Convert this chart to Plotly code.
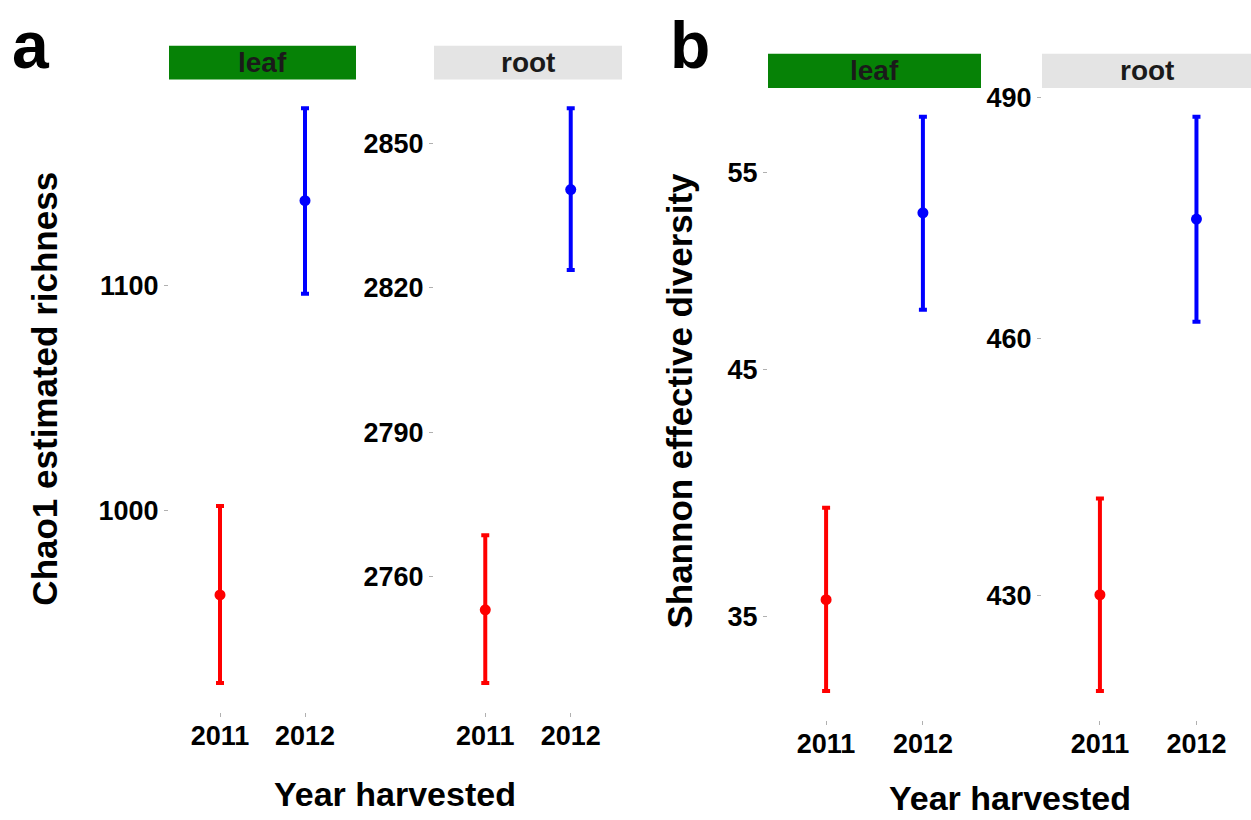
import math
import plotly.graph_objects as go

# ---------------- data ----------------
years = ["2011", "2012"]
year_colors = ["#ff0000", "#0000ff"]

chao1_leaf_mean = [962.3, 1138.0]
chao1_leaf_low = [923.1, 1096.5]
chao1_leaf_high = [1001.9, 1179.2]

chao1_root_mean = [2753.1, 2840.4]
chao1_root_low = [2737.9, 2823.7]
chao1_root_high = [2768.6, 2857.3]

shannon_leaf_mean = [35.6, 52.8]
shannon_leaf_low = [32.44, 47.83]
shannon_leaf_high = [39.09, 58.23]

shannon_root_mean = [430.1, 474.6]
shannon_root_low = [419.4, 462.0]
shannon_root_high = [441.1, 487.5]

chao1_leaf_ticks = [1000, 1100]
chao1_root_ticks = [2760, 2790, 2820, 2850]
shannon_leaf_ticks = [35, 45, 55]
shannon_root_ticks = [430, 460, 490]

facet_labels = ["leaf", "root"]
facet_colors = ["#068206", "#e4e4e4"]

# ---------------- layout helpers ----------------
W, H = 1251, 820
FONT = "Liberation Sans, Arial, Helvetica, sans-serif"


def px(x):
    return x / W


def py(y):
    return 1 - y / H


def expand_range(lo, hi, log=False):
    if log:
        lo, hi = math.log10(lo), math.log10(hi)
    pad = (hi - lo) * 0.05
    return [lo - pad, hi + pad]


panels = [
    # (mean, low, high, ticks, log, x-domain px, y-domain px, x-range)
    (chao1_leaf_mean, chao1_leaf_low, chao1_leaf_high, chao1_leaf_ticks, False,
     (169, 356), (75, 711), [-0.6, 1.6]),
    (chao1_root_mean, chao1_root_low, chao1_root_high, chao1_root_ticks, False,
     (434, 622), (75, 711), [-0.6, 1.6]),
    (shannon_leaf_mean, shannon_leaf_low, shannon_leaf_high, shannon_leaf_ticks, True,
     (768, 981), (83.5, 719), [-0.6, 1.6]),
    (shannon_root_mean, shannon_root_low, shannon_root_high, shannon_root_ticks, True,
     (1042, 1251), (83.5, 719), [-0.6, 1.565]),
]

fig = go.Figure()
layout = {}
tickfont = dict(family=FONT, size=27, color="#000000", weight="bold")

for i, (mean, low, high, ticks, is_log, xd, yd, xr) in enumerate(panels):
    n = i + 1
    xa = "x" if n == 1 else f"x{n}"
    ya = "y" if n == 1 else f"y{n}"
    for j, yr in enumerate(years):
        fig.add_trace(go.Scatter(
            x=[yr], y=[mean[j]],
            xaxis=xa, yaxis=ya,
            mode="markers",
            marker=dict(color=year_colors[j], size=11),
            error_y=dict(type="data", symmetric=False,
                         array=[high[j] - mean[j]],
                         arrayminus=[mean[j] - low[j]],
                         color=year_colors[j], thickness=4, width=4),
            showlegend=False,
        ))
    key_x = "xaxis" if n == 1 else f"xaxis{n}"
    key_y = "yaxis" if n == 1 else f"yaxis{n}"
    layout[key_x] = dict(
        domain=[px(xd[0]), px(xd[1])], anchor=ya,
        type="category", categoryorder="array", categoryarray=years,
        range=xr, showgrid=False, zeroline=False, showline=False,
        ticks="outside", ticklen=4, tickwidth=1, tickcolor="#b0b0b0",
        ticklabelstandoff=-4,
        tickfont=tickfont,
    )
    layout[key_y] = dict(
        domain=[py(yd[1]), py(yd[0])], anchor=xa,
        type="log" if is_log else "linear",
        range=expand_range(min(low), max(high), is_log),
        tickmode="array", tickvals=ticks, ticktext=[str(t) for t in ticks],
        showgrid=False, zeroline=False, showline=False,
        ticks="outside", ticklen=4, tickwidth=1, tickcolor="#b0b0b0",
        tickfont=tickfont,
    )

fig.update_layout(**layout)

# ---------------- strips ----------------
strips = [
    ((169, 356), (41, 75), 0),
    ((434, 622), (41, 75), 1),
    ((768, 981), (49, 83.5), 0),
    ((1042, 1251), (49, 83.5), 1),
]
shapes = []
annotations = []
for (x0, x1), (y0, y1), k in strips:
    shapes.append(dict(type="rect", xref="paper", yref="paper",
                       x0=px(x0), x1=px(x1), y0=py(y1), y1=py(y0),
                       fillcolor=facet_colors[k], line=dict(width=0), layer="below"))
    annotations.append(dict(xref="paper", yref="paper",
                            x=px((x0 + x1) / 2), y=py((y0 + y1) / 2),
                            text=facet_labels[k], showarrow=False,
                            xanchor="center", yanchor="middle",
                            font=dict(family=FONT, size=28, color="#1a1a1a", weight="bold")))

title_font = dict(family=FONT, size=35, color="#000000", weight="bold")
xtitle_font = dict(family=FONT, size=34, color="#000000", weight="bold")
annotations += [
    dict(xref="paper", yref="paper", x=px(45), y=py(386), text="Chao1 estimated richness",
         textangle=-90, showarrow=False, xanchor="center", yanchor="middle", font=title_font),
    dict(xref="paper", yref="paper", x=px(680), y=py(398), text="Shannon effective diversity",
         textangle=-90, showarrow=False, xanchor="center", yanchor="middle", font=title_font),
    dict(xref="paper", yref="paper", x=px(395), y=py(794), text="Year harvested",
         showarrow=False, xanchor="center", yanchor="middle", font=xtitle_font),
    dict(xref="paper", yref="paper", x=px(1010), y=py(798), text="Year harvested",
         showarrow=False, xanchor="center", yanchor="middle", font=xtitle_font),
    dict(xref="paper", yref="paper", x=px(10), y=py(40), text="a",
         showarrow=False, xanchor="left", yanchor="middle",
         font=dict(family=FONT, size=66, color="#000000", weight="bold")),
    dict(xref="paper", yref="paper", x=px(668), y=py(40), text="b",
         showarrow=False, xanchor="left", yanchor="middle",
         font=dict(family=FONT, size=66, color="#000000", weight="bold")),
]

fig.update_layout(
    width=W, height=H,
    margin=dict(l=0, r=0, t=0, b=0),
    paper_bgcolor="white", plot_bgcolor="white",
    showlegend=False,
    shapes=shapes, annotations=annotations,
)

fig.write_html("out.html")
